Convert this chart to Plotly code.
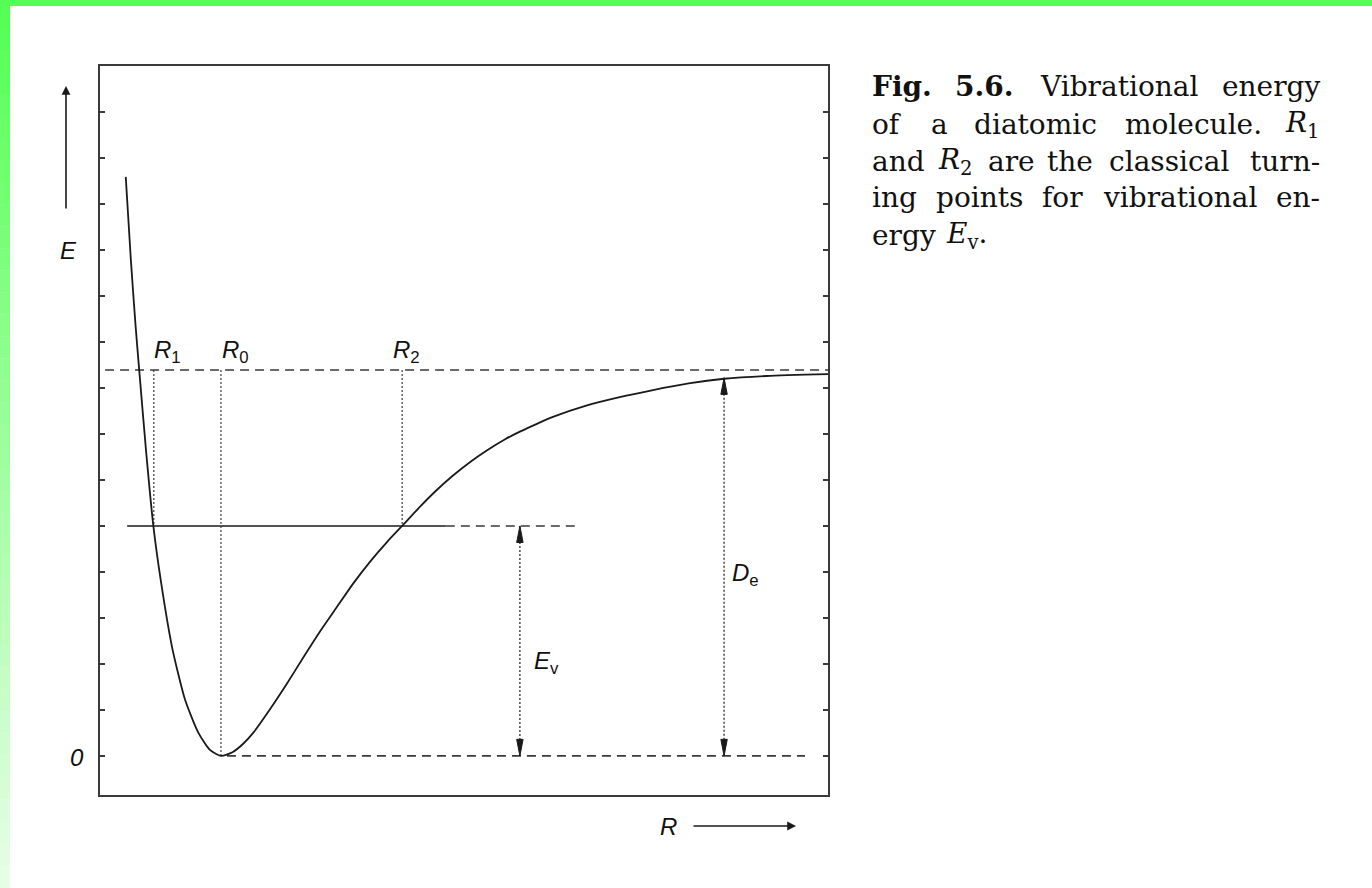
import plotly.graph_objects as go

# Potential-energy curve of a diatomic molecule (E against internuclear distance R)
R_curve = [0.56, 0.67, 0.77, 0.86, 1.00, 1.16, 1.33, 1.57, 1.85, 2.14, 2.39, 2.63,
           2.88, 3.12, 3.33, 3.70, 4.07, 4.42, 4.78, 5.14, 5.50, 5.87, 6.24, 6.57,
           6.96, 7.30, 7.67, 8.05, 8.41, 8.80, 9.13, 9.50, 9.85, 10.59, 11.30,
           12.00, 12.80, 13.57, 14.50, 15.83]
E_curve = [12.59, 10.80, 9.40, 8.30, 6.65, 5.00, 3.76, 2.35, 1.22, 0.50, 0.13, 0.00,
           0.08, 0.27, 0.50, 1.02, 1.58, 2.14, 2.70, 3.22, 3.74, 4.22, 4.65, 5.00,
           5.42, 5.76, 6.09, 6.39, 6.64, 6.88, 7.05, 7.22, 7.37, 7.62, 7.80,
           7.95, 8.10, 8.20, 8.26, 8.30]

# Energy levels and characteristic distances
E_DISS = 8.39      # dissociation limit
E_V = 5.0          # vibrational level
R1, R0, R2 = 1.17, 2.63, 6.57
R_EV_ARROW = 9.13
R_DE_ARROW = 13.57
E_DE_TOP = 8.22

E_TICKS = list(range(0, 15))
X_RANGE = [0, 15.83]
Y_RANGE = [-0.85, 15.0]

# Caption, one list of words per line (justified block)
CAPTION_WORDS = [
    ["<b>Fig.</b>", "<b>5.6.</b>", "Vibrational", "energy"],
    ["of", "a", "diatomic", "molecule.", "<i>R</i><sub>1</sub>"],
    ["and", "<i>R</i><sub>2</sub>", "are", "the", "classical", "turn-"],
    ["ing", "points", "for", "vibrational", "en-"],
    ["ergy", "<i>E</i><sub>v</sub>."],
]
# left edge of each word (px); a None means the word closes a justified line
CAPTION_X = [
    [870, 953, 1038, None],
    [870, 929, 972, 1123, None],
    [870, 936, 986, 1045, 1107, None],
    [870, 934, 1040, 1101, None],
    [870, 944],
]
CAPTION_BASE = [95, 133, 170, 207, 245]
CAPTION_RIGHT = 1322

INK = "#1a1a1a"
GREY = "#3a3a3a"

fig = go.Figure()

DASH = "9px,6px"
# Dissociation limit (dashed)
fig.add_trace(go.Scatter(x=[0.11, X_RANGE[1]], y=[E_DISS, E_DISS], mode="lines",
                         line=dict(color=GREY, width=1.6, dash=DASH)))
# Vibrational level: solid across the well, dashed beyond
fig.add_trace(go.Scatter(x=[0.59, 7.52], y=[E_V, E_V], mode="lines",
                         line=dict(color=INK, width=1.6)))
fig.add_trace(go.Scatter(x=[7.52, 10.43], y=[E_V, E_V], mode="lines",
                         line=dict(color=GREY, width=1.6, dash=DASH)))
# Zero level (dashed)
fig.add_trace(go.Scatter(x=[2.76, 15.33], y=[0, 0], mode="lines",
                         line=dict(color=GREY, width=1.6, dash=DASH)))

# Dotted verticals at the turning points and the minimum
for rx, ybot in [(R1, E_V), (R0, 0.0), (R2, E_V)]:
    fig.add_trace(go.Scatter(x=[rx, rx], y=[E_DISS, ybot], mode="lines",
                             line=dict(color=GREY, width=1.2, dash="2px,2px")))
# Dotted arrow shafts for E_v and D_e
fig.add_trace(go.Scatter(x=[R_EV_ARROW, R_EV_ARROW], y=[E_V, 0], mode="lines",
                         line=dict(color=GREY, width=1.4, dash="2px,2px")))
fig.add_trace(go.Scatter(x=[R_DE_ARROW, R_DE_ARROW], y=[E_DE_TOP, 0], mode="lines",
                         line=dict(color=GREY, width=1.4, dash="2px,2px")))

# Potential curve
fig.add_trace(go.Scatter(x=R_curve, y=E_curve, mode="lines",
                         line=dict(color=INK, width=1.8, shape="spline", smoothing=0.6)))

# Filled arrowheads on the dotted shafts
HW, HL = 0.07, 0.36


def head(x, ytip, up):
    yb = ytip - HL if up else ytip + HL
    return dict(type="path", xref="x", yref="y",
                path=f"M {x} {ytip} L {x - HW} {yb} L {x + HW} {yb} Z",
                fillcolor=INK, line=dict(color=INK, width=1))


shapes = [head(R_EV_ARROW, E_V, True), head(R_EV_ARROW, 0, False),
          head(R_DE_ARROW, E_DE_TOP, True), head(R_DE_ARROW, 0, False)]

# Green frame: bar along the top, fading strip down the left side
W, H = 1372, 888
L, R, T, B = 100, 828, 66, 795


def px(x):
    return (x - L) / (R - L)


def py(y):
    return (B - y) / (B - T)


shapes.append(dict(type="rect", xref="paper", yref="paper", x0=px(0), x1=px(W),
                   y0=py(6), y1=py(0), fillcolor="#55ff55", line=dict(width=0), layer="above"))
n = 40
for i in range(n):
    t = i / (n - 1)
    g0 = (0x55, 0xff, 0x55)
    g1 = (0xe6, 0xfd, 0xe6)
    c = tuple(round(a + (b - a) * t) for a, b in zip(g0, g1))
    y0 = 6 + (H - 6) * i / n
    y1 = 6 + (H - 6) * (i + 1) / n
    shapes.append(dict(type="rect", xref="paper", yref="paper", x0=px(0), x1=px(10),
                       y0=py(y1), y1=py(y0) + 0.0005,
                       fillcolor="rgb(%d,%d,%d)" % c, line=dict(width=0), layer="above"))

lab = dict(family="Liberation Sans, Arial, sans-serif", size=24, color="#111")


def label(text, x, y, xref="x", yref="y"):
    return dict(x=x, y=y, xref=xref, yref=yref, text=text, showarrow=False,
                xanchor="center", yanchor="middle", font=lab)


annotations = [
    label("<i>R</i><sub>1</sub>", px(167), py(352), "paper", "paper"),
    label("<i>R</i><sub>0</sub>", px(235), py(352), "paper", "paper"),
    label("<i>R</i><sub>2</sub>", px(406), py(352), "paper", "paper"),
    label("<i>E</i><sub>v</sub>", px(546), py(662), "paper", "paper"),
    label("<i>D</i><sub>e</sub>", px(745), py(574), "paper", "paper"),
    label("<i>0</i>", px(77), py(757), "paper", "paper"),
    label("<i>E</i>", px(68), py(250), "paper", "paper"),
    label("<i>R</i>", px(668), py(826), "paper", "paper"),
    # axis direction arrows
    dict(x=px(66), y=py(86), xref="paper", yref="paper", ax=0, ay=124, text="",
         showarrow=True, arrowhead=2, arrowsize=1.1, arrowwidth=1.6, arrowcolor=INK),
    dict(x=px(796), y=py(826), xref="paper", yref="paper", ax=-104, ay=0, text="",
         showarrow=True, arrowhead=2, arrowsize=1.1, arrowwidth=1.6, arrowcolor=INK),
]

cap_font = dict(family="DejaVu Serif, Liberation Serif, serif", size=28, color="#111")
for words, xs, base in zip(CAPTION_WORDS, CAPTION_X, CAPTION_BASE):
    for w, x in zip(words, xs):
        if x is None:
            xa, xv = "right", CAPTION_RIGHT
        else:
            xa, xv = "left", x
        annotations.append(dict(x=px(xv), y=py(base - 9), xref="paper", yref="paper",
                                text=w, showarrow=False, xanchor=xa, yanchor="middle",
                                font=cap_font))

fig.update_layout(
    width=W, height=H,
    margin=dict(l=L, r=W - R, t=T, b=H - B),
    paper_bgcolor="white", plot_bgcolor="white",
    showlegend=False,
    shapes=shapes,
    annotations=annotations,
    xaxis=dict(range=X_RANGE, showgrid=False, zeroline=False, showticklabels=False,
               ticks="", showline=True, mirror=True, linecolor=GREY, linewidth=2),
    yaxis=dict(range=Y_RANGE, showgrid=False, zeroline=False, showticklabels=False,
               tickvals=E_TICKS, ticks="inside", ticklen=5, tickwidth=1.5, tickcolor=GREY,
               showline=True, mirror="ticks", linecolor=GREY, linewidth=2),
)

fig.write_html("out.html")
